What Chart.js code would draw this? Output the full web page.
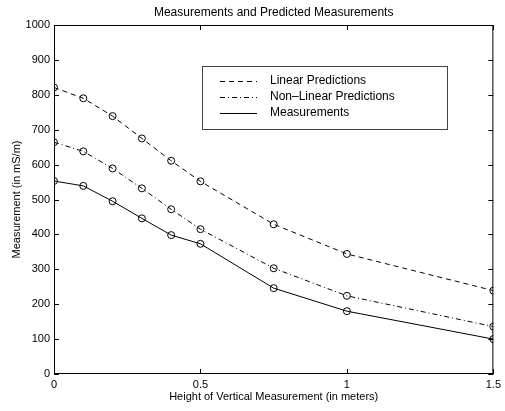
<!DOCTYPE html>
<html>
<head>
<meta charset="utf-8">
<script src="https://cdn.jsdelivr.net/npm/chart.js@4.4.0/dist/chart.umd.min.js"></script>
<style>
  html, body { margin: 0; padding: 0; background: #fff; }
  #wrap { width: 505px; height: 411px; }
</style>
</head>
<body>
<div id="wrap"><canvas id="grafico"></canvas></div>
<script>
// alturas de medida (metros)
const alturas = [0, 0.1, 0.2, 0.3, 0.4, 0.5, 0.75, 1, 1.5];
const linear = [821, 790, 739, 675, 611, 552, 429, 344, 239];
const nonLinear = [664, 638, 589, 532, 472, 415, 303, 224, 136];
const medidas = [553, 539, 495, 446, 398, 373, 246, 180, 100];
const xTicks = [0, 0.5, 1, 1.5];
const yTicks = [0, 100, 200, 300, 400, 500, 600, 700, 800, 900, 1000];

const FONT = '"Liberation Sans", Arial, Helvetica, sans-serif';

function puntos(ys) {
    return alturas.map((x, i) => ({ x: x, y: ys[i] }));
}

function serie(label, ys, dash) {
    return {
        label: label,
        data: puntos(ys),
        borderColor: '#000',
        borderWidth: 1,
        borderDash: dash,
        pointStyle: 'circle',
        pointRadius: 3.5,
        pointBorderColor: '#000',
        pointBackgroundColor: 'rgba(0,0,0,0)',
        pointBorderWidth: 1,
        showLine: true,
        tension: 0,
        fill: false
    };
}

// marco, ticks hacia dentro y leyenda al estilo matlab
const marcoPlugin = {
    id: 'marco',
    afterDatasetsDraw(chart) {
        const ctx = chart.ctx;
        const a = chart.chartArea;
        const xs = chart.scales.x, ys = chart.scales.y;
        ctx.save();
        ctx.strokeStyle = '#000';
        ctx.lineWidth = 1;
        ctx.setLineDash([]);
        ctx.strokeRect(a.left + 0.5, a.top + 0.5, a.right - a.left - 1, a.bottom - a.top - 1);
        ctx.beginPath();
        xTicks.forEach(v => {
            const px = Math.round(xs.getPixelForValue(v)) + 0.5;
            ctx.moveTo(px, a.bottom); ctx.lineTo(px, a.bottom - 5);
            ctx.moveTo(px, a.top); ctx.lineTo(px, a.top + 5);
        });
        yTicks.forEach(v => {
            const py = Math.round(ys.getPixelForValue(v)) + 0.5;
            ctx.moveTo(a.left, py); ctx.lineTo(a.left + 5, py);
            ctx.moveTo(a.right, py); ctx.lineTo(a.right - 5, py);
        });
        ctx.stroke();

        // titulo
        ctx.fillStyle = '#000';
        ctx.font = '12px ' + FONT;
        ctx.textAlign = 'center';
        ctx.textBaseline = 'middle';
        ctx.fillText('Measurements and Predicted Measurements', (a.left + a.right) / 2, 13);

        // leyenda
        const box = { x: 202, y: 66, w: 245, h: 63 };
        ctx.fillStyle = '#fff';
        ctx.fillRect(box.x, box.y, box.w, box.h);
        ctx.strokeStyle = '#444';
        ctx.strokeRect(box.x + 0.5, box.y + 0.5, box.w, box.h);
        const filas = [
            { t: 'Linear Predictions', d: [5, 4], y: 81 },
            { t: 'Non\u2013Linear Predictions', d: [5, 3, 1, 3], y: 97 },
            { t: 'Measurements', d: [], y: 113 }
        ];
        ctx.textAlign = 'left';
        filas.forEach(f => {
            ctx.strokeStyle = '#000';
            ctx.setLineDash(f.d);
            ctx.beginPath();
            ctx.moveTo(220, f.y + 0.5);
            ctx.lineTo(257, f.y + 0.5);
            ctx.stroke();
            ctx.setLineDash([]);
            ctx.fillStyle = '#000';
            ctx.fillText(f.t, 270, f.y);
        });
        ctx.restore();
    }
};

const ctx = document.getElementById('grafico').getContext('2d');

new Chart(ctx, {
    type: 'scatter',
    data: {
        datasets: [
            serie('Linear Predictions', linear, [5, 4]),
            serie('Non-Linear Predictions', nonLinear, [5, 3, 1, 3]),
            serie('Measurements', medidas, [])
        ]
    },
    options: {
        responsive: true,
        maintainAspectRatio: false,
        animation: false,
        layout: { padding: { top: 25, right: 8, left: 0, bottom: 0 } },
        plugins: {
            legend: { display: false },
            tooltip: { enabled: false },
            title: { display: false }
        },
        scales: {
            x: {
                type: 'linear',
                min: 0,
                max: 1.5,
                grid: { display: false, drawTicks: false },
                border: { display: false },
                afterBuildTicks: s => { s.ticks = xTicks.map(v => ({ value: v })); },
                afterFit: s => { s.height = 37; },
                ticks: {
                    color: '#000',
                    font: { family: FONT, size: 11 },
                    padding: 4,
                    maxRotation: 0,
                    callback: v => String(v)
                },
                title: {
                    display: true,
                    text: 'Height of Vertical Measurement (in meters)',
                    color: '#000',
                    font: { family: FONT, size: 11 },
                    padding: { top: 0, bottom: 7.5 }
                }
            },
            y: {
                type: 'linear',
                min: 0,
                max: 1000,
                grid: { display: false, drawTicks: false },
                border: { display: false },
                afterBuildTicks: s => { s.ticks = yTicks.map(v => ({ value: v })); },
                afterFit: s => { s.width = 54; },
                ticks: {
                    color: '#000',
                    font: { family: FONT, size: 11 },
                    padding: 4,
                    callback: v => String(v)
                },
                title: {
                    display: true,
                    text: 'Measurement (in mS/m)',
                    color: '#000',
                    font: { family: FONT, size: 11 },
                    padding: { top: 10, bottom: 0 }
                }
            }
        }
    },
    plugins: [marcoPlugin]
});
</script>
</body>
</html>
